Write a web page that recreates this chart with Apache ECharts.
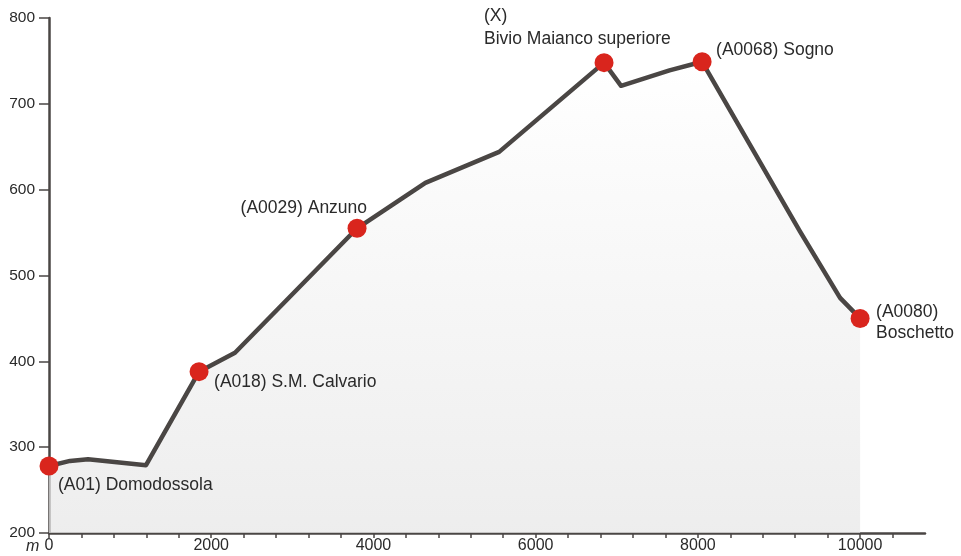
<!DOCTYPE html>
<html>
<head>
<meta charset="utf-8">
<script src="https://cdn.jsdelivr.net/npm/echarts@6/dist/echarts.min.js"></script>
<style>html,body{margin:0;padding:0;background:#fff}#c{width:961px;height:556px}</style>
</head>
<body>
<div id="c"></div>
<script>
// Profile (distance in m, altitude in m)
const distance = [0, 259, 481, 1196, 1850, 2293, 3798, 4640, 5550, 6843, 7053, 7650, 8052, 9260, 9753, 10000];
const altitude = [278, 284, 286, 279, 388, 410, 555, 608, 644, 748, 721, 739, 749, 551, 474, 450];

// Stations
const stationNames = ['(A01) Domodossola', '(A018) S.M. Calvario', '(A0029) Anzuno', '(X)\nBivio Maianco superiore', '(A0068) Sogno', '(A0080)\nBoschetto'];
const stationDist = [0, 1850, 3798, 6843, 8052, 10000];
const stationAlt = [278, 388, 555, 748, 749, 450];

// Axis ticks
const yTicks = [200, 300, 400, 500, 600, 700, 800];
const xLabelStep = 2000;

// label placement (style, not data)
const labelLayout = [
  {align: 'left', offset: [9, 19], lineHeight: 22},
  {align: 'left', offset: [15, 11], lineHeight: 22},
  {align: 'right', offset: [10, -20], lineHeight: 22},
  {align: 'left', offset: [-120, -35], lineHeight: 23},
  {align: 'left', offset: [14, -12], lineHeight: 22},
  {align: 'left', offset: [16, 4], lineHeight: 21}
];

const FONT = 'Liberation Sans';
const chart = echarts.init(document.getElementById('c'));
chart.setOption({
  animation: false,
  backgroundColor: '#fff',
  grid: {left: 49, right: 36, top: 18, bottom: 23, containLabel: false},
  xAxis: {
    type: 'value', min: 0, max: 10800, interval: 400,
    axisLine: {lineStyle: {color: '#4a4644', width: 2.5}},
    axisTick: {length: 5, lineStyle: {color: '#4a4644', width: 1.5}},
    axisLabel: {
      color: '#2a2a2a', fontFamily: FONT, fontSize: 16, margin: 5,
      showMaxLabel: false,
      formatter: v => (v % xLabelStep === 0 ? String(v) : '')
    },
    splitLine: {show: false}
  },
  yAxis: {
    type: 'value', min: yTicks[0], max: yTicks[yTicks.length - 1], interval: 100,
    axisLine: {show: true, lineStyle: {color: '#4a4644', width: 2.5}},
    axisTick: {show: true, length: 10, lineStyle: {color: '#4a4644', width: 1.5}},
    axisLabel: {color: '#2a2a2a', fontFamily: FONT, fontSize: 15.5, margin: 14},
    splitLine: {show: false}
  },
  graphic: [{
    type: 'text', left: 26, top: 539,
    style: {text: 'm', fontFamily: FONT, fontSize: 16, fontStyle: 'italic', fill: '#2a2a2a'}
  }],
  series: [
    {
      type: 'line',
      data: distance.map((d, i) => [d, altitude[i]]),
      symbol: 'none',
      lineStyle: {color: '#4a4644', width: 4.5, join: 'round', cap: 'round'},
      areaStyle: {
        origin: 'start',
        color: new echarts.graphic.LinearGradient(0, 0, 0, 1, [
          {offset: 0, color: '#ffffff'},
          {offset: 1, color: '#e6e6e6'}
        ])
      },
      z: 2
    },
    {
      type: 'scatter',
      symbol: 'circle',
      symbolSize: 19,
      itemStyle: {color: '#d9251d', opacity: 1},
      z: 3,
      data: stationDist.map((d, i) => ({
        value: [d, stationAlt[i]],
        label: {
          show: true,
          position: 'inside',
          formatter: stationNames[i],
          align: labelLayout[i].align,
          verticalAlign: 'middle',
          offset: labelLayout[i].offset,
          lineHeight: labelLayout[i].lineHeight,
          color: '#2a2a2a',
          fontFamily: FONT,
          fontSize: 17.5
        }
      }))
    }
  ]
});
</script>
</body>
</html>
